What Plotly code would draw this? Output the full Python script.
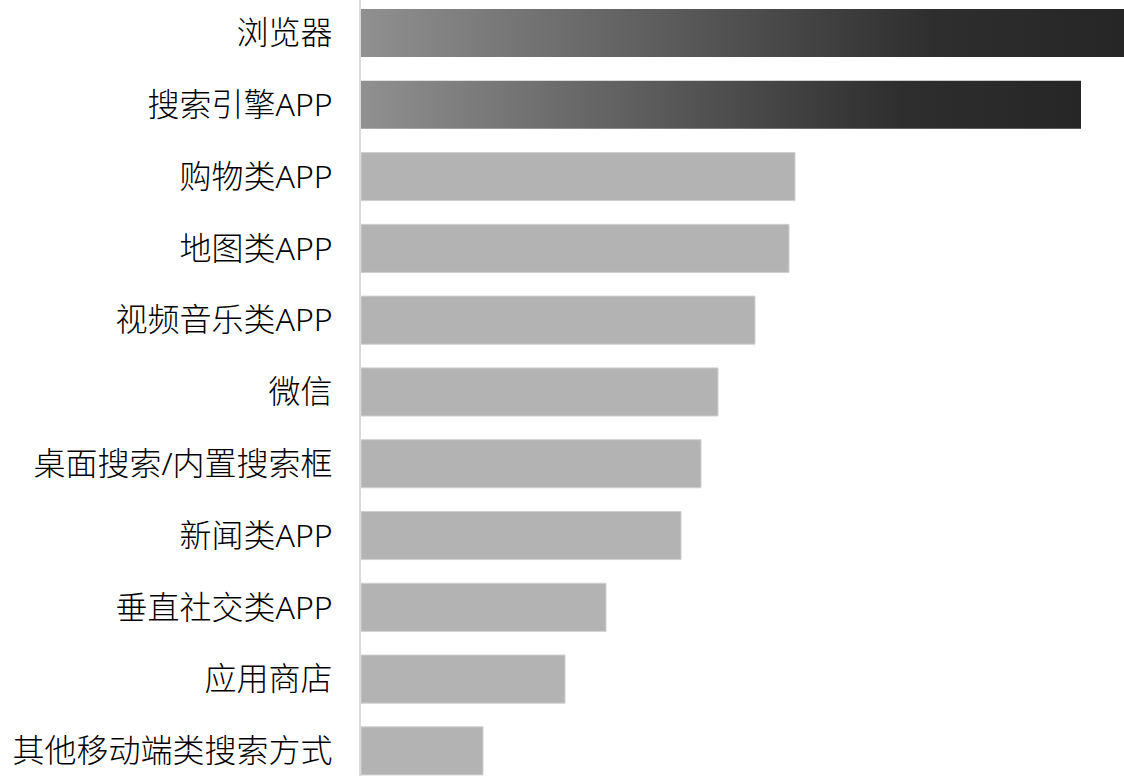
import plotly.graph_objects as go

# Search entry points, ordered top to bottom
categories = [
    "浏览器", "搜索引擎APP", "购物类APP", "地图类APP", "视频音乐类APP", "微信",
    "桌面搜索/内置搜索框", "新闻类APP", "垂直社交类APP", "应用商店", "其他移动端类搜索方式",
]
values = [76.3, 72.0, 43.4, 42.8, 39.4, 35.7, 34.0, 32.0, 24.5, 20.4, 12.2]
highlight_count = 2  # leading entries drawn with a gradient fill

BAR_W = 0.67
positions = list(range(len(categories)))

fig = go.Figure()

# Plain gray bars for the remaining categories
fig.add_trace(go.Bar(
    x=values[highlight_count:],
    y=positions[highlight_count:],
    orientation="h",
    width=BAR_W,
    marker=dict(color="#b3b3b3", line=dict(color="#cfcfcf", width=1)),
    hoverinfo="skip",
    showlegend=False,
))

# Gradient-filled bars for the leading categories
for i in range(highlight_count):
    v, p = values[i], positions[i]
    h = BAR_W / 2
    fig.add_trace(go.Scatter(
        x=[0, v, v, 0, 0],
        y=[p - h, p - h, p + h, p + h, p - h],
        mode="lines",
        fill="toself",
        line=dict(width=0, color="rgba(0,0,0,0)"),
        fillgradient=dict(
            type="horizontal",
            colorscale=[[0, "#909090"], [0.75, "#2e2e2e"], [1, "#262626"]],
        ),
        hoverinfo="skip",
        showlegend=False,
    ))

LABEL_FONT = "Noto Sans, Noto Sans CJK SC, sans-serif"

fig.update_layout(
    width=1124,
    height=776,
    margin=dict(l=361, r=0, t=0, b=0),
    paper_bgcolor="white",
    plot_bgcolor="white",
    font=dict(family=LABEL_FONT, size=32, color="#000000"),
    xaxis=dict(
        range=[0, values[0]],
        showticklabels=False,
        showgrid=False,
        zeroline=False,
        showline=False,
        fixedrange=True,
    ),
    yaxis=dict(
        range=[10.35, -0.46],
        tickmode="array",
        tickvals=positions,
        ticktext=categories,
        showgrid=False,
        zeroline=False,
        showline=True,
        linecolor="#d9d9d9",
        linewidth=2,
        ticks="",
        ticklabelstandoff=20,
        tickfont=dict(family=LABEL_FONT, size=32, color="#000000", weight=300),
        fixedrange=True,
    ),
)

fig.write_html("out.html")
